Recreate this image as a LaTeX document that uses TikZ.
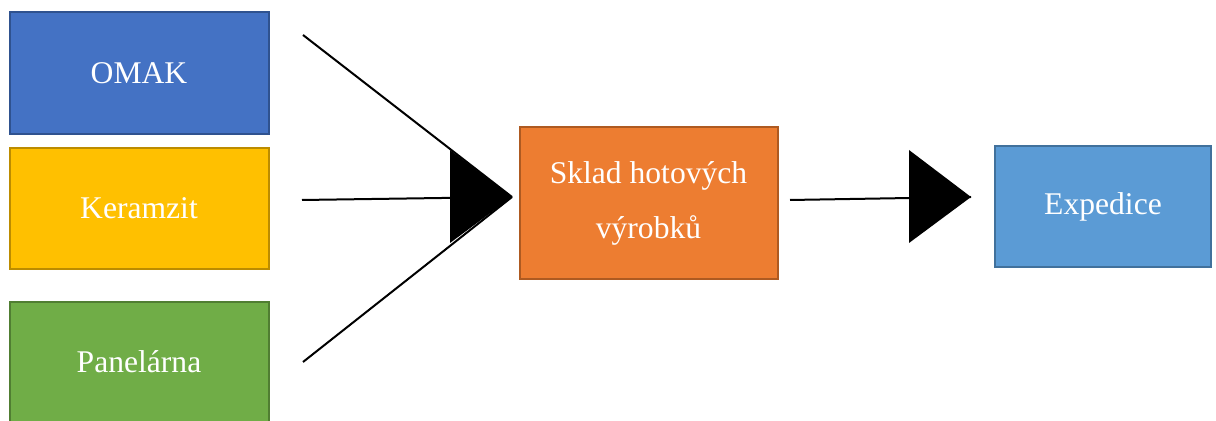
\documentclass[tikz,border=0pt]{standalone}
\usepackage{fontspec}
\setmainfont{Liberation Serif}
\definecolor{omakfill}{HTML}{4472C4}
\definecolor{omakline}{HTML}{2F528F}
\definecolor{kerfill}{HTML}{FFC000}
\definecolor{kerline}{HTML}{BC8C00}
\definecolor{panfill}{HTML}{70AD47}
\definecolor{panline}{HTML}{507E32}
\definecolor{skladfill}{HTML}{ED7D31}
\definecolor{skladline}{HTML}{AE5A21}
\definecolor{expfill}{HTML}{5B9BD5}
\definecolor{expline}{HTML}{41719C}
\begin{document}
\begin{tikzpicture}[x=0.5pt,y=-0.5pt,
  box/.style={draw, line width=1pt, text=white, align=center,
    font=\fontsize{15.8}{27.5}\selectfont, inner sep=0pt},
  flow/.style={line width=1pt, black},
  head/.style={fill=black}]
\useasboundingbox (0,0) rectangle (1216,421);

% source boxes
\node[box, fill=omakfill, draw=omakline, minimum width=129.5pt, minimum height=61pt] (omak) at (139,73) {OMAK};
\node[box, fill=kerfill, draw=kerline, minimum width=129.5pt, minimum height=60.5pt] (ker) at (139,208.5) {Keramzit};
\node[box, fill=panfill, draw=panline, minimum width=129.5pt, minimum height=60pt] (pan) at (139,362) {Panelárna};

% warehouse and dispatch
\node[box, fill=skladfill, draw=skladline, minimum width=129pt, minimum height=76pt] (sklad) at (648.5,203) {Sklad hotových\\výrobků};
\node[box, fill=expfill, draw=expline, minimum width=108pt, minimum height=60.5pt] (exp) at (1103,207) {Expedice};

% connector end points
\coordinate (s1) at (303,35);
\coordinate (s2) at (302,200);
\coordinate (s3) at (303,362);
\coordinate (tipA) at (512,197);
\coordinate (s4) at (790,200);
\coordinate (tipB) at (971,197);

% converging lines into the warehouse
\draw[flow] (s1) -- (tipA);
\draw[flow] (s2) -- (tipA);
\draw[flow] (s3) -- (tipA);
\fill[head] (tipA) -- ++(-62,-47) -- ++(0,93) -- cycle;

% warehouse to dispatch
\draw[flow] (s4) -- (tipB);
\fill[head] (tipB) -- ++(-62,-47) -- ++(0,93) -- cycle;
\end{tikzpicture}
\end{document}
